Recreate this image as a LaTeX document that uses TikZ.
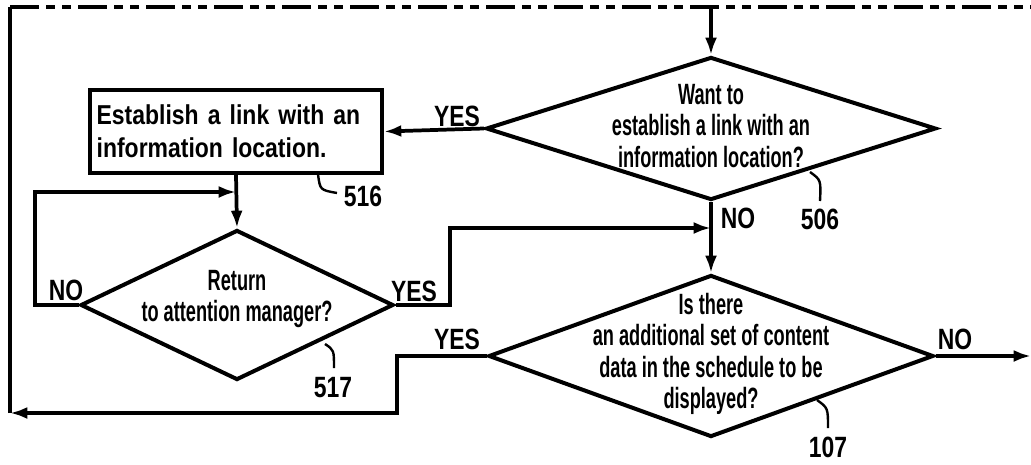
\documentclass[tikz,border=0pt]{standalone}
\usepackage{fontspec}
\setmainfont{Liberation Sans}
\newfontfamily\dfont[FakeStretch=0.62]{Liberation Sans}
\newfontfamily\bxfont[FakeStretch=0.84]{Liberation Sans}
\newfontfamily\lbfont[FakeStretch=0.78]{Liberation Sans}
\usetikzlibrary{shapes.geometric,arrows.meta}
\begin{document}
\begin{tikzpicture}[x=0.75pt,y=-0.75pt,
  flow/.style={line width=2.8pt},
  arr/.style={flow,-{Latex[length=13pt,width=9pt]}},
  decision/.style={draw,diamond,line width=3pt,inner sep=0pt},
  procbox/.style={draw,rectangle,line width=3pt,inner xsep=5pt,inner ysep=9pt,text width=209pt,align=left,
    minimum height=62.25pt,font=\bxfont\bfseries\fontsize{20.5}{25}\selectfont},
  dtext/.style={align=center,inner sep=0pt,font=\dfont\bfseries\fontsize{22}{23.5}\selectfont},
  lab/.style={inner sep=0pt,font=\lbfont\bfseries\fontsize{22}{24}\selectfont},
  refnum/.style={inner sep=0pt,font=\lbfont\bfseries\fontsize{22}{24}\selectfont},
  leader/.style={line width=1.8pt},
  topdash/.style={line width=2.8pt,dash pattern=on 22pt off 5pt on 7pt off 5pt on 7pt off 5pt}
]
\useasboundingbox (0,0) rectangle (1031,464);

% nodes
\node[procbox] (box) at (236,131.5) {Establish a link with an\\information location.};
\node[decision,minimum width=337.5pt,minimum height=107.25pt] (d506) at (711,128.5) {};
\node[dtext] (t506) at (711,126) {Want to\\establish a link with an\\information location?};
\node[decision,minimum width=234.75pt,minimum height=112.5pt] (d517) at (237,305) {};
\node[dtext] (t517) at (237,299) {Return\\to attention manager?};
\node[decision,minimum width=333.75pt,minimum height=121.5pt] (d107) at (711,356) {};
\node[dtext] (t107) at (711,354) {Is there\\an additional set of content\\data in the schedule to be\\displayed?};

% coordinates
\coordinate (tl) at (10,7);
\coordinate (tr) at (1031,7);
\coordinate (tj) at (711,7);
\coordinate (bl) at (10,413);
\coordinate (j1) at (236,192);
\coordinate (j2) at (711,228);
\coordinate (out) at (1031,356);

% top dashed line and left return line
\draw[topdash] (tl) -- (tr);
\draw[flow] (bl) -- (tl);
\draw[arr] (tj) -- (d506.north);

% YES from 506 to box
\draw[arr] (d506.west) -- (box.east);
\node[lab] (y506) at (457,116) {YES};

% box to 517
\draw[arr] (box.south) -- (d517.north);

% NO loop of 517
\draw[arr] (d517.west) -- (35,305) |- (j1);
\node[lab] (n517) at (66,290) {NO};

% YES of 517
\draw[arr] (d517.east) -- (450,305) |- (j2);
\node[lab] (y517) at (414,291) {YES};

% 506 to 107
\draw[arr] (d506.south) -- (d107.north);
\node[lab] (n506) at (738,218) {NO};

% NO of 107
\draw[arr] (d107.east) -- (out);
\node[lab] (n107) at (955,339) {NO};

% YES of 107
\draw[arr] (d107.west) -- (397,356) |- (bl);
\node[lab] (y107) at (457,339) {YES};

% reference numerals
\coordinate (a516) at (318,174);
\coordinate (b516) at (337,193);
\draw[leader] (a516) .. controls (320,190) .. (b516);
\node[refnum] (r516) at (363,196) {516};

\coordinate (a506) at (810,172);
\coordinate (b506) at (820,201);
\draw[leader] (a506) .. controls (821,180) .. (b506);
\node[refnum] (r506) at (820,219) {506};

\coordinate (a517) at (325,344);
\coordinate (b517) at (334,368);
\draw[leader] (a517) .. controls (334,350) .. (b517);
\node[refnum] (r517) at (333,388) {517};

\coordinate (a107) at (817,400);
\coordinate (b107) at (828,428);
\draw[leader] (a107) .. controls (828,408) .. (b107);
\node[refnum] (r107) at (828,447) {107};
\end{tikzpicture}
\end{document}
